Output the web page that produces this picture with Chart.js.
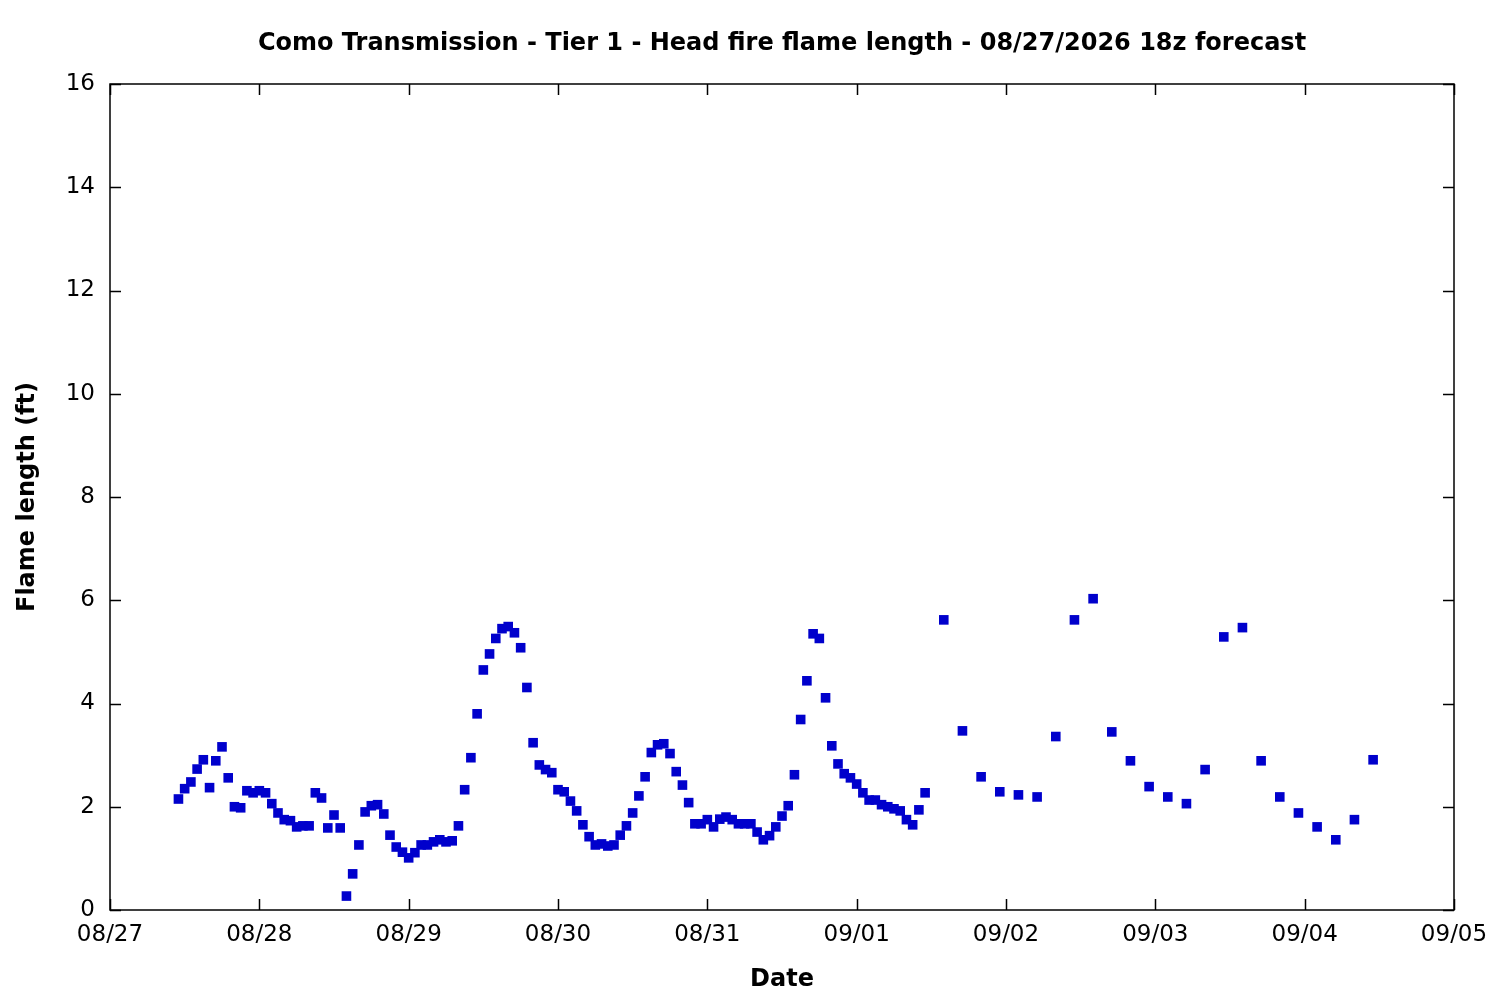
<!DOCTYPE html>
<html>
<head>
<meta charset="utf-8">
<script src="https://cdn.jsdelivr.net/npm/chart.js@4/dist/chart.umd.min.js"></script>
<style>
  body { margin: 0; background: #fff; }
  #myChart { display: block; }
</style>
</head>
<body>
<canvas id="myChart" width="1500" height="1000"></canvas>
<script>
// hours since 08/27 00z
const forecastHours = [
  11, 12, 13, 14, 15, 16, 17, 18, 19, 20, 21, 22, 23, 24, 25, 26, 27, 28, 29, 30,
  31, 32, 33, 34, 35, 36, 37, 38, 39, 40, 41, 42, 43, 44, 45, 46, 47, 48, 49, 50,
  51, 52, 53, 54, 55, 56, 57, 58, 59, 60, 61, 62, 63, 64, 65, 66, 67, 68, 69, 70,
  71, 72, 73, 74, 75, 76, 77, 78, 79, 80, 81, 82, 83, 84, 85, 86, 87, 88, 89, 90,
  91, 92, 93, 94, 95, 96, 97, 98, 99, 100, 101, 102, 103, 104, 105, 106, 107, 108, 109, 110,
  111, 112, 113, 114, 115, 116, 117, 118, 119, 120, 121, 122, 123, 124, 125, 126, 127, 128, 129, 130,
  131, 134, 137, 140, 143, 146, 149, 152, 155, 158, 161, 164, 167, 170, 173, 176, 179, 182, 185, 188,
  191, 194, 197, 200, 203
]
const flameLength = [
  2.15, 2.35, 2.48, 2.73, 2.91, 2.37, 2.89, 3.16, 2.56, 2.00, 1.98, 2.31, 2.27, 2.31, 2.27, 2.06, 1.88, 1.75, 1.73, 1.61,
  1.63, 1.63, 2.27, 2.17, 1.59, 1.84, 1.59, 0.27, 0.70, 1.26, 1.90, 2.02, 2.04, 1.86, 1.45, 1.22, 1.12, 1.01, 1.11, 1.26,
  1.26, 1.32, 1.36, 1.32, 1.34, 1.63, 2.33, 2.95, 3.80, 4.65, 4.96, 5.26, 5.45, 5.49, 5.37, 5.08, 4.31, 3.24, 2.81, 2.72,
  2.66, 2.33, 2.29, 2.11, 1.92, 1.65, 1.42, 1.26, 1.28, 1.24, 1.26, 1.45, 1.63, 1.88, 2.21, 2.58, 3.05, 3.20, 3.22, 3.03,
  2.68, 2.42, 2.08, 1.67, 1.67, 1.75, 1.61, 1.76, 1.80, 1.75, 1.67, 1.67, 1.67, 1.51, 1.36, 1.44, 1.61, 1.82, 2.02, 2.62,
  3.69, 4.44, 5.35, 5.26, 4.11, 3.18, 2.83, 2.64, 2.56, 2.44, 2.27, 2.13, 2.13, 2.04, 2.00, 1.96, 1.92, 1.75, 1.65, 1.94,
  2.27, 5.62, 3.47, 2.58, 2.29, 2.23, 2.19, 3.36, 5.62, 6.03, 3.45, 2.89, 2.39, 2.19, 2.06, 2.72, 5.29, 5.47, 2.89, 2.19,
  1.88, 1.61, 1.36, 1.75, 2.91
]
const dayLabels = ['08/27', '08/28', '08/29', '08/30', '08/31', '09/01', '09/02', '09/03', '09/04', '09/05']
const yTicks = [0, 2, 4, 6, 8, 10, 12, 14, 16]

const points = forecastHours.map((h, i) => ({ x: h, y: flameLength[i] }))

// gnuplot style box with inward ticks on every side
const boxTicks = {
    id: 'boxTicks',
    afterDraw(chart) {
        const { ctx, chartArea: a, scales } = chart
        const len = 11
        ctx.save()
        ctx.strokeStyle = '#000'
        ctx.lineWidth = 1.5
        ctx.beginPath()
        scales.x.ticks.forEach((t) => {
            const px = Math.round(scales.x.getPixelForValue(t.value)) + 0.5
            ctx.moveTo(px, a.bottom)
            ctx.lineTo(px, a.bottom - len)
            ctx.moveTo(px, a.top)
            ctx.lineTo(px, a.top + len)
        })
        scales.y.ticks.forEach((t) => {
            const py = Math.round(scales.y.getPixelForValue(t.value)) + 0.5
            ctx.moveTo(a.left, py)
            ctx.lineTo(a.left + len, py)
            ctx.moveTo(a.right, py)
            ctx.lineTo(a.right - len, py)
        })
        ctx.stroke()
        ctx.strokeRect(a.left, a.top, a.right - a.left, a.bottom - a.top)
        ctx.restore()
    }
}

const config = {
    type: 'scatter',
    data: {
        datasets: [{
            label: 'Head fire flame length',
            data: points,
            pointStyle: 'rect',
            pointRadius: 6.8,
            pointHoverRadius: 6.8,
            borderWidth: 0,
            backgroundColor: '#0000cc',
            borderColor: '#0000cc'
        }]
    },
    options: {
        responsive: false,
        animation: false,
        devicePixelRatio: 1,
        layout: { padding: { top: 0, right: 46, left: 0, bottom: 0 } },
        plugins: {
            legend: { display: false },
            tooltip: { enabled: false },
            title: {
                display: true,
                fullSize: false,
                text: 'Como Transmission - Tier 1 - Head fire flame length - 08/27/2026 18z forecast',
                color: '#000',
                font: { family: 'DejaVu Sans', size: 24, weight: 'bold', lineHeight: 1.2 },
                padding: { top: 29, bottom: 26.2 }
            }
        },
        scales: {
            x: {
                type: 'linear',
                min: 0,
                max: 216,
                afterFit: (scale) => { scale.height = 90 },
                afterBuildTicks: (scale) => {
                    scale.ticks = dayLabels.map((d, i) => ({ value: i * 24 }))
                },
                ticks: {
                    color: '#000',
                    font: { family: 'DejaVu Sans', size: 23 },
                    padding: 11,
                    maxRotation: 0,
                    autoSkip: false,
                    callback: (v) => dayLabels[Math.round(v / 24)]
                },
                grid: { drawOnChartArea: false, drawTicks: false },
                border: { display: false },
                title: {
                    display: true,
                    text: 'Date',
                    color: '#000',
                    font: { family: 'DejaVu Sans', size: 24, weight: 'bold', lineHeight: 1.2 },
                    padding: { top: 0, bottom: 6 }
                }
            },
            y: {
                min: 0,
                max: 16,
                afterFit: (scale) => { scale.width = 110 },
                afterBuildTicks: (scale) => {
                    scale.ticks = yTicks.map((v) => ({ value: v }))
                },
                ticks: {
                    color: '#000',
                    font: { family: 'DejaVu Sans', size: 23 },
                    padding: 15
                },
                grid: { drawOnChartArea: false, drawTicks: false },
                border: { display: false },
                title: {
                    display: true,
                    text: 'Flame length (ft)',
                    color: '#000',
                    font: { family: 'DejaVu Sans', size: 24, weight: 'bold', lineHeight: 1.2 },
                    padding: { top: 13, bottom: 0 }
                }
            }
        }
    },
    plugins: [boxTicks]
}

const ctx = document.getElementById('myChart')
new Chart(ctx, config)
</script>
</body>
</html>
